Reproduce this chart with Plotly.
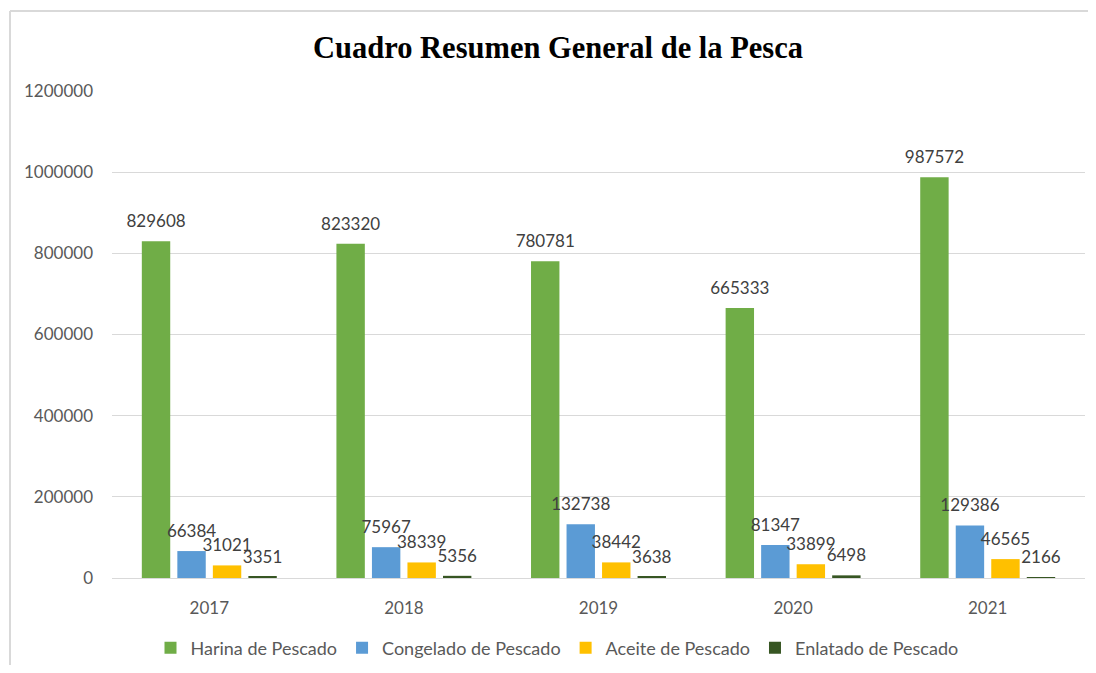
import plotly.graph_objects as go

years = ["2017", "2018", "2019", "2020", "2021"]
harina = [829608, 823320, 780781, 665333, 987572]
congelado = [66384, 75967, 132738, 81347, 129386]
aceite = [31021, 38339, 38442, 33899, 46565]
enlatado = [3351, 5356, 3638, 6498, 2166]

series = [
    ("Harina de Pescado", harina, "#70AD47"),
    ("Congelado de Pescado", congelado, "#5B9BD5"),
    ("Aceite de Pescado", aceite, "#FFC000"),
    ("Enlatado de Pescado", enlatado, "#375623"),
]

font_family = "Lato, 'Open Sans', sans-serif"
label_color = "#404040"
axis_color = "#595959"

# page body has an 8px margin; figure sized to fit the window
OFF = 8
W, H = 1080, 657
ml, mr, mt, mb = 104, 3, 83, 87
pw = W - ml - mr
ph = H - mt - mb

def px(xr):
    return (xr - OFF - ml) / pw

def py(yr):
    return (H - mb - (yr - OFF)) / ph

fig = go.Figure()
for i, (name, vals, color) in enumerate(series):
    fig.add_trace(go.Bar(
        name=name, x=years, y=vals,
        marker=dict(color=color, line=dict(width=0)),
        offsetgroup=str(i), alignmentgroup="a",
    ))
for i, (name, vals, color) in enumerate(series):
    fig.add_trace(go.Scatter(
        x=years, y=vals, mode="markers+text",
        text=[str(v) for v in vals],
        textposition="top center",
        textfont=dict(family=font_family, size=17, color=label_color),
        marker=dict(size=14, opacity=0, color=color),
        offsetgroup=str(i), alignmentgroup="a",
        showlegend=False, hoverinfo="skip", cliponaxis=False,
    ))

fig.update_layout(
    width=W, height=H,
    margin=dict(l=ml, r=mr, t=mt, b=mb, autoexpand=False),
    paper_bgcolor="white", plot_bgcolor="white",
    barmode="group", bargap=0.27, bargroupgap=0.2,
    scattermode="group", scattergap=0.27,
    title=dict(text="<b>Cuadro Resumen General de la Pesca</b>",
               xref="container", x=(558 - OFF) / W, xanchor="center",
               yref="container", y=1 - (47 - OFF) / H, yanchor="middle",
               font=dict(family="'Liberation Serif', 'Times New Roman', serif", size=30.5, color="black")),
    font=dict(family=font_family, size=17, color=axis_color),
    legend=dict(orientation="h", x=px(557), xanchor="center", y=py(648), yanchor="middle",
                font=dict(family=font_family, size=18, color=axis_color),
                itemwidth=30, traceorder="normal"),
    yaxis=dict(range=[0, 1200000], dtick=200000, tickformat="d",
               showgrid=True, gridcolor="#D9D9D9", gridwidth=1,
               zeroline=True, zerolinecolor="#D9D9D9", zerolinewidth=1,
               showline=False, ticks="", ticklabelstandoff=18,
               tickfont=dict(family=font_family, size=17, color=axis_color)),
    xaxis=dict(showgrid=False, showline=False, ticks="", ticklabelstandoff=18,
               tickfont=dict(family=font_family, size=17, color=axis_color)),
    shapes=[
        dict(type="line", xref="paper", yref="paper", x0=px(10), x1=px(1100), y0=py(11), y1=py(11),
             line=dict(color="#D9D9D9", width=2)),
        dict(type="line", xref="paper", yref="paper", x0=px(10), x1=px(10), y0=py(11), y1=py(680),
             line=dict(color="#D9D9D9", width=2)),
    ],
    showlegend=True,
)

fig.write_html("out.html")
